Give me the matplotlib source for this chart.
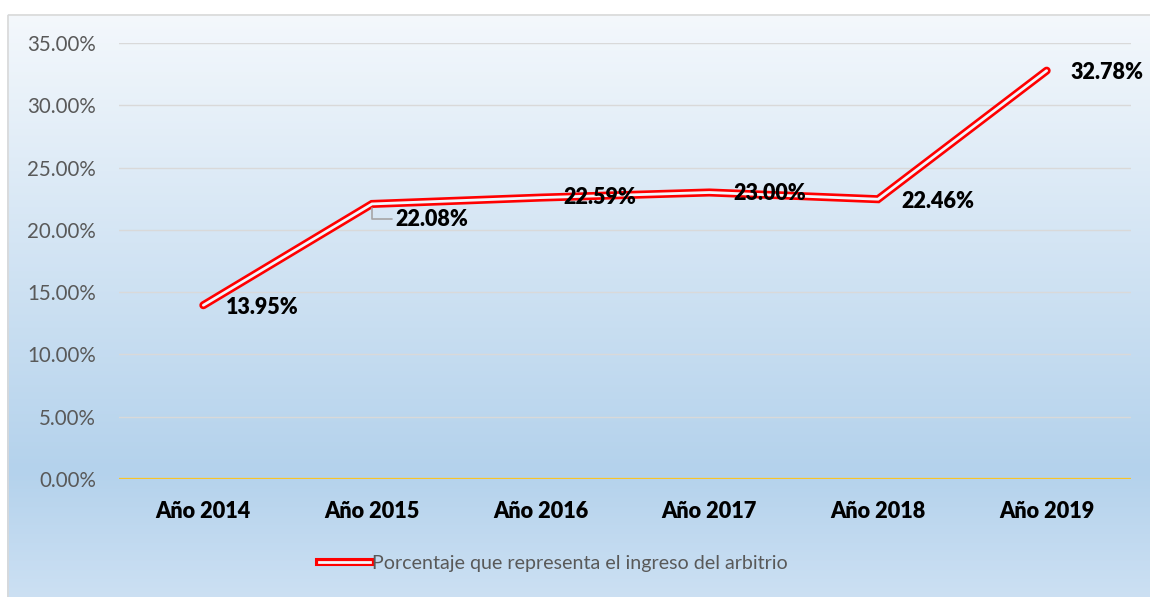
import numpy as np
import matplotlib
matplotlib.use("Agg")
import matplotlib.pyplot as plt
from matplotlib.lines import Line2D
from matplotlib.legend_handler import HandlerTuple
from matplotlib.patches import Rectangle
from matplotlib.ticker import FuncFormatter, MultipleLocator

categories = ["Año 2014", "Año 2015", "Año 2016", "Año 2017", "Año 2018", "Año 2019"]
values = [13.95, 22.08, 22.59, 23.00, 22.46, 32.78]
labels = ["13.95%", "22.08%", "22.59%", "23.00%", "22.46%", "32.78%"]
series_name = "Porcentaje que representa el ingreso del arbitrio"

plt.rcParams['font.family'] = ['Lato', 'DejaVu Sans']

W, H = 1150, 597
fig = plt.figure(figsize=(W / 100, H / 100), dpi=100)

# background gradient (chart frame)
bg = fig.add_axes([0, 0, 1, 1], zorder=-5)
bg.set_axis_off()
ys = np.arange(H)
stops_y = [14, 470, 597]
stops_c = np.array([[244, 248, 252], [180, 210, 236], [204, 224, 243]]) / 255.0
col = np.stack([np.interp(ys, stops_y, stops_c[:, i]) for i in range(3)], axis=1)
img = np.repeat(col[:, None, :], W, axis=1)
img[:14, :, :] = 1.0
img[:, :7, :] = 1.0
bg.imshow(img, aspect='auto', extent=[0, W, H, 0], interpolation='nearest')
bg.add_patch(Rectangle((7.5, 14.5), W + 10, H + 10, fill=False, edgecolor='#d9d9d9', lw=1.2))
bg.set_xlim(0, W)
bg.set_ylim(H, 0)

left, right = 119 / W, 1131 / W
bottom, top = (H - 479) / H, (H - 43) / H
ax = fig.add_axes([left, bottom, right - left, top - bottom])
ax.patch.set_alpha(0)
x = np.arange(len(categories))
ax.set_xlim(-0.5, len(categories) - 0.5)
ax.set_ylim(0, 35)
for s in ax.spines.values():
    s.set_visible(False)
ax.yaxis.set_major_locator(MultipleLocator(5))
ax.yaxis.set_major_formatter(FuncFormatter(lambda v, p: f"{v:.2f}%"))
ax.grid(axis='y', color='#d9d9d9', lw=1.0, zorder=0)
ax.axhline(0, color='#ffc000', lw=1.6, zorder=1)
ax.tick_params(axis='y', length=0, pad=16.5, labelsize=14.8, labelcolor='#595959')
ax.tick_params(axis='x', length=0, pad=16, labelsize=15.6)
ax.set_xticks(x)
ax.set_xticklabels(categories, fontweight='heavy', color='black')

ax.plot(x, values, color='#ff0000', lw=5.8, solid_capstyle='round', solid_joinstyle='miter', zorder=3)
ax.plot(x, values, color='#f2f6fb', lw=2.0, solid_capstyle='round', solid_joinstyle='miter', zorder=4)

offsets = [(16.5, -1.5), (16.5, -11), (16, 0), (17, -1), (17, -2), (17, -1)]
for i, (v, lab) in enumerate(zip(values, labels)):
    kw = {}
    if i == 1:
        kw['arrowprops'] = dict(arrowstyle='-', color='#a6a6a6', lw=1.2,
                                connectionstyle='angle,angleA=0,angleB=90,rad=0',
                                shrinkA=0, shrinkB=3)
    ax.annotate(lab, (x[i], v), xytext=offsets[i], textcoords='offset points',
                ha='left', va='center', fontsize=15.5, fontweight='heavy', color='black',
                zorder=5, **kw)

h1 = Line2D([], [], color='#ff0000', lw=5.8)
h2 = Line2D([], [], color='#f2f6fb', lw=2.0)
fig.legend([(h1, h2)], [series_name], handler_map={tuple: HandlerTuple(ndivide=1)},
           loc='center', bbox_to_anchor=(553 / W, 1 - 563 / H), frameon=False,
           fontsize=14.1, labelcolor='#595959', handlelength=2.6, handletextpad=0.1)

fig.savefig("out.png", dpi=100)
